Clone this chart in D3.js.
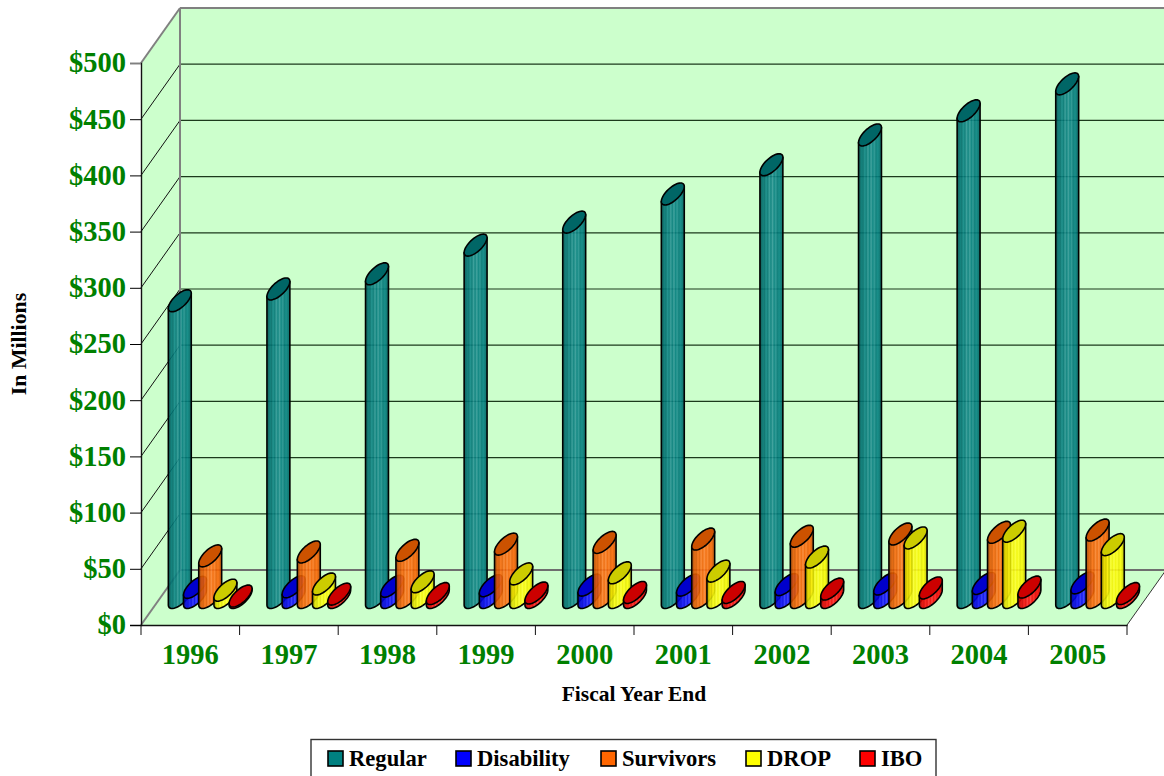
<!DOCTYPE html>
<html>
<head>
<meta charset="utf-8">
<script src="https://cdn.jsdelivr.net/npm/d3@7"></script>
<style>
  html, body { margin: 0; padding: 0; background: #fff; }
  svg { display: block; }
  text { font-family: "Liberation Serif", serif; font-weight: bold; }
</style>
</head>
<body>
<svg id="chart" width="1164" height="776"></svg>
<script>
// Fiscal years and contributions per benefit type, in millions of dollars
const years = ["1996","1997","1998","1999","2000","2001","2002","2003","2004","2005"];
const seriesNames = ["Regular","Disability","Survivors","DROP","IBO"];
const regular    = [264, 274.5, 288, 313.5, 334, 359, 385, 411.5, 433, 457];
const disability = [9, 9.5, 10, 10.5, 11, 11, 11.5, 12, 12.5, 13];
const survivors  = [37, 40.5, 42, 47.5, 49, 52, 54.5, 56.5, 58, 60];
const drop       = [6.5, 12, 14, 21, 22, 23.5, 36, 53, 59, 47];
const ibo        = [1.3, 3, 3.5, 4, 4.5, 4.5, 7.5, 8.5, 9.3, 3.5];
const seriesValues = [regular, disability, survivors, drop, ibo];
const yTicks = [0, 50, 100, 150, 200, 250, 300, 350, 400, 450, 500];

const seriesColors = ["#008080", "#0000ff", "#ff6600", "#ffff00", "#ff0000"];
const capColors    = ["#006666", "#0000cc", "#cc5200", "#cccc00", "#cc0000"];

const svg = d3.select("#chart");
const plot = { left: 141, right: 1127, top: 63, bottom: 625 };
const depth = { x: 39, y: -55 };   // oblique offset from the front plane to the back wall

const x = d3.scaleBand().domain(years).range([plot.left, plot.right]);
const y = d3.scaleLinear().domain([0, 500]).range([plot.bottom, plot.top]);
const seriesOffset = d3.scalePoint().domain(seriesNames).range([-30.4, 30.4]);

// ---- walls and floor ----
const wallFill = "#ccffcc", frame = "#808080";
const poly = pts => "M" + pts.map(p => p.join(",")).join("L") + "Z";
const back = { l: plot.left + depth.x, r: plot.right + depth.x };

svg.append("path")  // back wall
  .attr("d", poly([[back.l, y(500) + depth.y], [back.r, y(500) + depth.y], [back.r, y(0) + depth.y], [back.l, y(0) + depth.y]]))
  .attr("fill", wallFill);
svg.append("path")  // left wall
  .attr("d", poly([[plot.left, y(500)], [back.l, y(500) + depth.y], [back.l, y(0) + depth.y], [plot.left, y(0)]]))
  .attr("fill", wallFill);
svg.append("path")  // floor
  .attr("d", poly([[plot.left, y(0)], [plot.right, y(0)], [back.r, y(0) + depth.y], [back.l, y(0) + depth.y]]))
  .attr("fill", wallFill);

// grid lines running along the back wall and down the left wall
const grid = svg.append("g");
grid.selectAll("line.back").data(yTicks.filter(d => d > 0 && d < 500)).join("line")
  .attr("x1", back.l).attr("x2", back.r)
  .attr("y1", d => y(d) + depth.y).attr("y2", d => y(d) + depth.y)
  .attr("stroke", "#1c3a1c").attr("stroke-width", 1.2);
grid.selectAll("line.side").data(yTicks.filter(d => d > 0 && d < 500)).join("line")
  .attr("x1", plot.left).attr("x2", back.l)
  .attr("y1", d => y(d)).attr("y2", d => y(d) + depth.y)
  .attr("stroke", "#111").attr("stroke-width", 1);

// wall outlines
const edge = (x1, y1, x2, y2, c, w) => svg.append("line")
  .attr("x1", x1).attr("y1", y1).attr("x2", x2).attr("y2", y2)
  .attr("stroke", c).attr("stroke-width", w);
edge(back.l, y(500) + depth.y, back.r, y(500) + depth.y, frame, 2);
edge(back.l, y(0) + depth.y, back.r, y(0) + depth.y, "#6e6e6e", 2);
edge(back.l, y(500) + depth.y, back.l, y(0) + depth.y, frame, 2);
edge(plot.left, y(500), back.l, y(500) + depth.y, frame, 2);
edge(plot.left, y(0), back.l, y(0) + depth.y, frame, 2);
edge(plot.right, y(0), back.r, y(0) + depth.y, "#333", 1);

// ---- striped shading across the cylinders ----
const defs = svg.append("defs");
const stripes = [
  [0, -1], [0.07, -0.8], [0.14, -0.25], [0.2, -0.5], [0.27, 0.15], [0.34, -0.3], [0.41, 0.4], [0.48, -0.15],
  [0.55, 0.45], [0.62, -0.1], [0.69, 0.3], [0.76, -0.25], [0.84, 0.05], [0.92, -0.4], [1, -0.7]
];
seriesColors.forEach((color, i) => {
  const g = defs.append("linearGradient").attr("id", "shade" + i)
    .attr("x1", 0).attr("x2", 1).attr("y1", 0).attr("y2", 0);
  stripes.forEach(([o, k]) => {
    const c = k < 0 ? d3.rgb(color).darker(-k) : d3.interpolateRgb(color, "#ffffff")(k * 0.45);
    g.append("stop").attr("offset", o).attr("stop-color", c);
  });
});

// ---- cylinders ----
// A round cross-section in oblique projection: axis u along x, axis v along the depth direction
const u = [8.4, 0];
const v = [depth.x * 0.2, depth.y * 0.2];
const tangent = Math.atan2(v[0], u[0]);
const rimPoint = (cx, cy, t) => [
  cx + u[0] * Math.cos(t) + v[0] * Math.sin(t),
  cy + u[1] * Math.cos(t) + v[1] * Math.sin(t)
];
const line = d3.line();
const capPath = (cx, cy) =>
  line(d3.range(0, 49).map(k => rimPoint(cx, cy, k / 48 * 2 * Math.PI))) + "Z";
const bodyPath = (cx, cyTop, cyBase) => {
  const top = rimPoint(cx, cyTop, tangent + Math.PI);
  const topRight = rimPoint(cx, cyTop, tangent);
  const lower = d3.range(0, 25).map(k => rimPoint(cx, cyBase, tangent - k / 24 * Math.PI));
  return line([top, topRight, ...lower]) + "Z";
};

const bars = svg.append("g");
years.forEach((year, yi) => {
  seriesNames.forEach((name, si) => {
    const value = seriesValues[si][yi];
    const cx = 0.4 + x(year) + x.bandwidth() / 2 + depth.x / 2 + seriesOffset(name);
    const cyBase = y(0) + depth.y / 2;
    const cyTop = y(value) + depth.y / 2;
    bars.append("path")
      .attr("d", bodyPath(cx, cyTop, cyBase))
      .attr("fill", `url(#shade${si})`).attr("fill-opacity", 0.9)
      .attr("stroke", "#000").attr("stroke-width", 1.6).attr("stroke-linejoin", "round");
    bars.append("path")
      .attr("d", capPath(cx, cyTop))
      .attr("fill", capColors[si])
      .attr("stroke", "#000").attr("stroke-width", 1.6);
  });
});

// ---- axes ----
const green = "#008000";
const yAxis = svg.append("g").attr("transform", `translate(${plot.left},0)`)
  .call(d3.axisLeft(y).tickValues(yTicks).tickSize(11).tickPadding(4).tickFormat(d => "$" + d));
const xAxis = svg.append("g").attr("transform", `translate(0,${plot.bottom})`)
  .call(d3.axisBottom(x).tickSize(0).tickPadding(19));
xAxis.selectAll(".tick line").remove();
// tick marks sit on the category boundaries
xAxis.selectAll("line.boundary").data(x.domain().map(d => x(d)).concat(plot.right)).join("line")
  .attr("class", "boundary").attr("x1", d => d).attr("x2", d => d)
  .attr("y1", 0).attr("y2", 10).attr("stroke", "#111").attr("stroke-width", 1);
[yAxis, xAxis].forEach(a => {
  a.select(".domain").attr("stroke", "#111").attr("stroke-width", 1.4);
  a.selectAll("text").attr("font-size", 28.5).attr("fill", green)
    .style("font-family", '"Liberation Serif", serif').style("font-weight", "bold");
});
yAxis.selectAll(".tick text").attr("dy", "0.31em");
yAxis.select(".tick:last-of-type line").attr("stroke", frame);

svg.append("text").attr("x", 634).attr("y", 701).attr("text-anchor", "middle")
  .attr("font-size", 21.5).text("Fiscal Year End");
svg.append("text").attr("transform", "translate(26,344) rotate(-90)").attr("text-anchor", "middle")
  .attr("font-size", 21.8).text("In Millions");

// ---- legend ----
const legendBox = { x: 311, y: 739.5, w: 625, h: 40 };
svg.append("rect").attr("x", legendBox.x).attr("y", legendBox.y)
  .attr("width", legendBox.w).attr("height", legendBox.h)
  .attr("fill", "#fff").attr("stroke", "#333").attr("stroke-width", 1.4);
const legendX = [328, 456, 601, 746, 860];
const entries = svg.append("g").selectAll("g").data(seriesNames).join("g")
  .attr("transform", (d, i) => `translate(${legendX[i]},751)`);
entries.append("rect").attr("width", 15).attr("height", 15)
  .attr("fill", (d, i) => seriesColors[i]).attr("stroke", "#000").attr("stroke-width", 1.6);
entries.append("text").attr("x", 21).attr("y", 15).attr("font-size", 22.6).text(d => d);
</script>
</body>
</html>
